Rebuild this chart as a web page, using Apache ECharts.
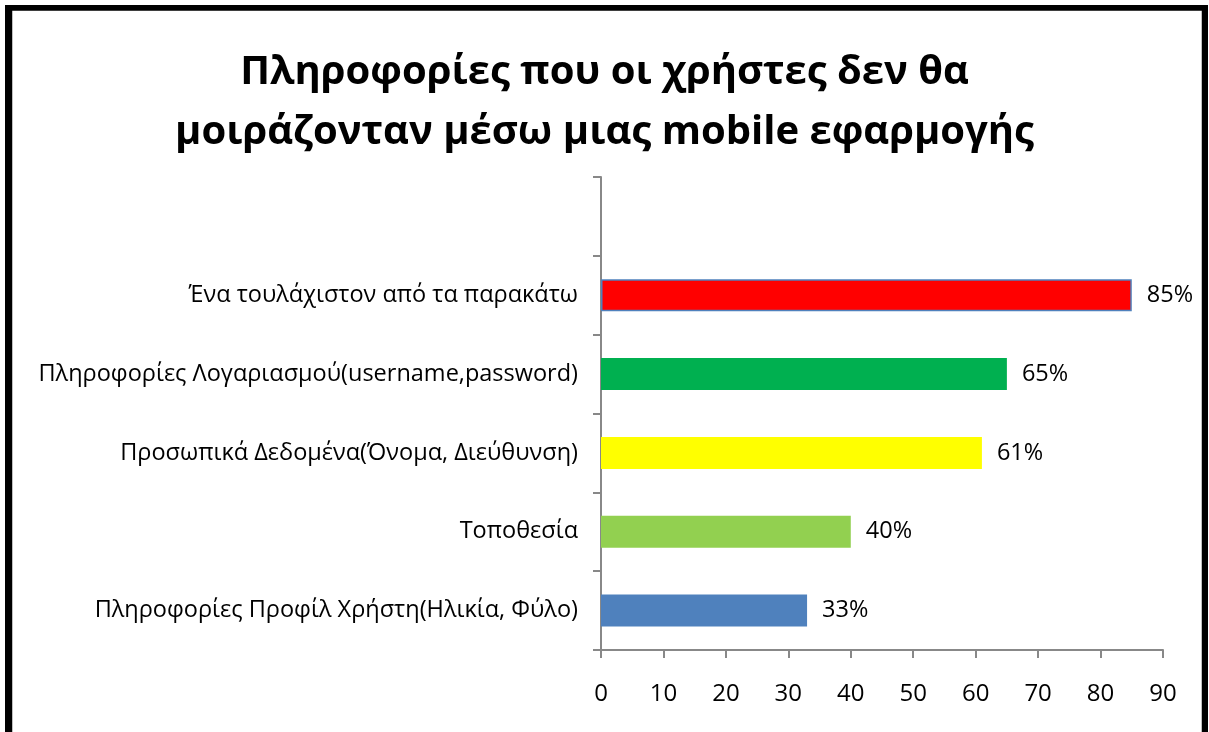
<!DOCTYPE html>
<html><head><meta charset="utf-8">
<script src="https://cdn.jsdelivr.net/npm/echarts@6/dist/echarts.min.js"></script>
<style>html,body{margin:0;padding:0;background:#fff}#c{width:1209px;height:732px}</style>
</head><body><div id="c"></div>
<script>
const categories = [
  'Πληροφορίες Προφίλ Χρήστη(Ηλικία, Φύλο)',
  'Τοποθεσία',
  'Προσωπικά Δεδομένα(Όνομα, Διεύθυνση)',
  'Πληροφορίες Λογαριασμού(username,password)',
  'Ένα τουλάχιστον από τα παρακάτω',
  ''
];
const values = [33, 40, 61, 65, 85, null];
const barColors = ['#4F81BD', '#92D050', '#FFFF00', '#00B050', '#FF0000', '#FFFFFF'];
const xTicks = [0, 10, 20, 30, 40, 50, 60, 70, 80, 90];
const titleText = 'Πληροφορίες που οι χρήστες δεν θα\nμοιράζονταν μέσω μιας mobile εφαρμογής';

const chart = echarts.init(document.getElementById('c'));
const font = '"Open Sans", "Noto Sans", sans-serif';
chart.setOption({
  animation: false,
  backgroundColor: '#fff',
  title: {
    text: titleText, left: 'center', top: 38,
    textStyle: { fontFamily: font, fontSize: 40, fontWeight: 'bold', color: '#000', lineHeight: 60 }
  },
  grid: { left: 601, right: 46, top: 177, bottom: 82, containLabel: false },
  xAxis: {
    type: 'value', min: xTicks[0], max: xTicks[xTicks.length - 1], interval: 10,
    axisLine: { show: true, lineStyle: { color: '#888', width: 2 } },
    axisTick: { show: true, length: 8, lineStyle: { color: '#888', width: 2 } },
    splitLine: { show: false },
    axisLabel: { fontFamily: font, fontSize: 24, color: '#000', margin: 32 }
  },
  yAxis: {
    type: 'category', data: categories,
    axisLine: { show: true, lineStyle: { color: '#888', width: 2 } },
    axisTick: { show: true, length: 8, lineStyle: { color: '#888', width: 2 } },
    axisLabel: { fontFamily: font, fontSize: 23.5, color: '#000', margin: 23 }
  },
  series: [{
    type: 'bar', barWidth: 32,
    data: values.map((v, i) => ({
      value: v,
      itemStyle: { color: barColors[i], borderColor: i === 4 ? '#4F81BD' : barColors[i], borderWidth: i === 4 ? 1.5 : 0 }
    })),
    label: {
      show: true, position: 'right', distance: 15,
      formatter: p => p.value + '%',
      fontFamily: font, fontSize: 23.5, color: '#000'
    }
  }],
  graphic: [
    { type: 'rect', shape: { x: 7.5, y: 7.5, width: 1198, height: 800 }, style: { fill: 'none', stroke: '#000', lineWidth: 5 }, silent: true },
    { type: 'rect', shape: { x: 11, y: 9.5, width: 1192, height: 800 }, style: { fill: 'none', stroke: '#000', lineWidth: 2.5 }, silent: true }
  ]
});
</script></body></html>
